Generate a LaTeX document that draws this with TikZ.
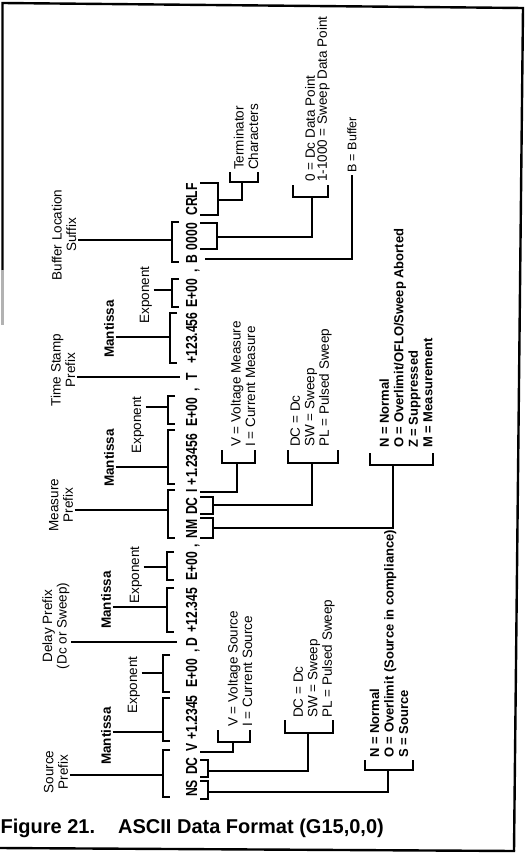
\documentclass[tikz,border=0pt]{standalone}
\usepackage{fontspec}
\setmainfont{Liberation Sans}
\newfontfamily\condf{Liberation Sans}[FakeStretch=0.76]
\newcommand\obr[5]{\draw[ln] ({#2+7},#3) -- (#2,#3) -- (#2,#4) -- ({#2+7},#4); \coordinate (#1) at (#2,#5);}
\newcommand\ubr[5]{\draw[ln] (200,#3) -- (#2,#3) -- (#2,#4) -- (200,#4); \coordinate (#1) at (#2,#5);}
\newcommand\lbr[6]{\draw[ln] (#2,#5) -- (#2,#4) -- (#3,#4) -- (#3,#5); \coordinate (#1) at (#6,#4);}
\begin{document}
\begin{tikzpicture}[x=1pt,y=-1pt,
  ln/.style={line width=1.25pt},
  mtxt/.style={rotate=90,anchor=base,inner sep=0pt,font=\condf\bfseries\fontsize{16}{18}\selectfont},
  lab/.style={rotate=90,align=center,inner sep=1.5pt,font=\fontsize{13.5}{14.5}\selectfont},
  labb/.style={rotate=90,align=center,inner sep=1.5pt,font=\bfseries\fontsize{13.5}{14.5}\selectfont},
  lst/.style={rotate=90,align=left,anchor=west,inner sep=0pt,font=\fontsize{13.5}{14.5}\selectfont},
  lstb/.style={rotate=90,align=left,anchor=west,inner sep=0pt,font=\bfseries\fontsize{13}{14.5}\selectfont},
  capt/.style={anchor=base west,inner sep=0pt,font=\bfseries\fontsize{20}{24}\selectfont}]
\useasboundingbox (0,0) rectangle (527,856);
% frame
\draw[line width=2.4pt] (2.5,270) -- (2.5,3) -- (523,8) -- (514,851);
\draw[line width=2.4pt] (0,848) -- (515,851);
\draw[line width=2.4pt,black!30] (2.5,270) -- (2.5,325);
% main data string
\node[mtxt] (sNS) at (197,788.5) {NS};
\node[mtxt] (sDC) at (197,766) {DC};
\node[mtxt] (sV) at (197,747) {V};
\node[mtxt] (sMan) at (197,717.5) {+1.2345};
\node[mtxt] (sExp) at (197,673.5) {E+00};
\node[mtxt] (c1) at (197,651) {,};
\node[mtxt] (dD) at (197,642) {D};
\node[mtxt] (dMan) at (197,610) {+12.345};
\node[mtxt] (dExp) at (197,566) {E+00};
\node[mtxt] (c2) at (197,546) {,};
\node[mtxt] (mNM) at (197,529) {NM};
\node[mtxt] (mDC) at (197,506) {DC};
\node[mtxt] (mI) at (197,490.5) {I};
\node[mtxt] (mMan) at (197,459.5) {+1.23456};
\node[mtxt] (mExp) at (197,412.5) {E+00};
\node[mtxt] (c3) at (197,390) {,};
\node[mtxt] (tT) at (197,377) {T};
\node[mtxt] (tMan) at (197,338) {+123.456};
\node[mtxt] (tExp) at (197,293) {E+00};
\node[mtxt] (c4) at (197,271) {,};
\node[mtxt] (bB) at (197,259) {B};
\node[mtxt] (b0) at (197,236.5) {0000};
\node[mtxt] (bCR) at (197,199.5) {CRLF};
% upper labels
\node[lab] (lSrc) at (56,772) {Source\\Prefix};
\node[labb] (lSM) at (106,736) {Mantissa};
\node[lab] (lSE) at (134,685) {Exponent};
\node[lab] (lDly) at (56,626) {Delay Prefix\\(Dc or Sweep)};
\node[labb] (lDM) at (106,600) {Mantissa};
\node[lab] (lDE) at (136,575) {Exponent};
\node[lab] (lMeas) at (61,505) {Measure\\Prefix};
\node[labb] (lMM) at (109,458) {Mantissa};
\node[lab] (lME) at (138,425) {Exponent};
\node[lab] (lTS) at (63,370) {Time Stamp\\Prefix};
\node[labb] (lTM) at (109,329) {Mantissa};
\node[lab] (lTE) at (146,295) {Exponent};
\node[lab] (lBuf) at (64,235) {Buffer Location\\Suffix};
% upper brackets
\obr{oSP}{163}{750}{797}{775}
\obr{oSM}{163}{698}{741}{732}
\obr{oSE}{163}{655}{692}{673}
\obr{oDM}{167}{588}{632}{607}
\obr{oDE}{167}{552}{580}{567}
\obr{oMP}{168}{490}{538}{510}
\obr{oMM}{168}{430}{484}{467}
\obr{oME}{168}{396}{424}{407}
\obr{oTM}{170}{313}{363}{337}
\obr{oTE}{172}{279}{307}{290}
\obr{oBL}{172}{222}{262}{240}
\draw[ln] (lSrc.south |- oSP) -- (oSP);
\draw[ln] (lSM.south |- oSM) -- (oSM);
\draw[ln] (lSE.south |- oSE) -- (oSE);
\draw[ln] (lDM.south |- oDM) -- (oDM);
\draw[ln] (lDE.south |- oDE) -- (oDE);
\draw[ln] (lMeas.south |- oMP) -- (oMP);
\draw[ln] (lMM.south |- oMM) -- (oMM);
\draw[ln] (lME.south |- oME) -- (oME);
\draw[ln] (lTM.south |- oTM) -- (oTM);
\draw[ln] (lTE.south |- oTE) -- (oTE);
\draw[ln] (lBuf.south |- oBL) -- (oBL);
\draw[ln,shorten >=9pt] (lDly.south |- dD.north) -- (dD.north);
\draw[ln,shorten >=6pt] (lTS.south |- tT.north) -- (tT.north);
% lower brackets
\ubr{uSNS}{208}{781}{799}{792}
\ubr{uSDC}{208}{760}{777}{771}
\ubr{uMNM}{213}{518}{538}{528}
\ubr{uMDC}{213}{497}{514}{505}
\ubr{uB0}{217}{223}{249}{237}
\ubr{uBCR}{218}{183}{215}{200}
\coordinate (sVa) at (200,752);
\coordinate (mIa) at (200,492);
\coordinate (bBa) at (205,259);
% lists
\lbr{lbSV}{218}{250}{742}{730}{233}
\node[lst] (tSV) at (240,727) {V = Voltage Source\\I = Current Source};
\lbr{lbSDC}{285}{333}{733}{720}{308}
\node[lst] (tSDC) at (314,718) {DC = Dc\\SW = Sweep\\PL = Pulsed Sweep};
\lbr{lbSNS}{365}{413}{770}{760}{388}
\node[lstb] (tSNS) at (389,758) {N = Normal\\O = Overlimit (Source in compliance)\\S = Source};
\lbr{lbMI}{222}{255}{463}{450}{237}
\node[lst] (tMI) at (243,447) {V = Voltage Measure\\I = Current Measure};
\lbr{lbMDC}{288}{338}{463}{450}{312}
\node[lst] (tMDC) at (311,447) {DC = Dc\\SW = Sweep\\PL = Pulsed Sweep};
\lbr{lbMNM}{370}{433}{465}{453}{393}
\node[lstb] (tMNM) at (406,448) {N = Normal\\O = Overlimit/OFLO/Sweep Aborted\\Z = Suppressed\\M = Measurement};
\lbr{lbB0}{293}{328}{197}{185}{312}
\node[lst,font=\fontsize{13.5}{12}\selectfont] (tB0) at (317.5,182) {0 = Dc Data Point\\1-1000 = Sweep Data Point};
\lbr{lbCR}{230}{258}{182}{172}{242}
\node[lst] (tCR) at (246,170) {Terminator\\Characters};
\node[lst,inner sep=2pt,font=\fontsize{12.5}{14}\selectfont] (tBuf) at (352,175) {B = Buffer};
% connectors
\draw[ln] (sVa) -| (lbSV);
\draw[ln] (uSDC) -| (lbSDC);
\draw[ln] (uSNS) -| (lbSNS);
\draw[ln] (mIa) -| (lbMI);
\draw[ln] (uMDC) -| (lbMDC);
\draw[ln] (uMNM) -| (lbMNM);
\draw[ln] (uB0) -| (lbB0);
\draw[ln] (uBCR) -| (lbCR);
\draw[ln] (bBa) -| (tBuf.west);
% caption
\node[capt] (fig) at (0.5,833) {Figure 21.};
\node[capt] (cap) at (118,833) {ASCII Data Format (G15,0,0)};
\end{tikzpicture}
\end{document}
